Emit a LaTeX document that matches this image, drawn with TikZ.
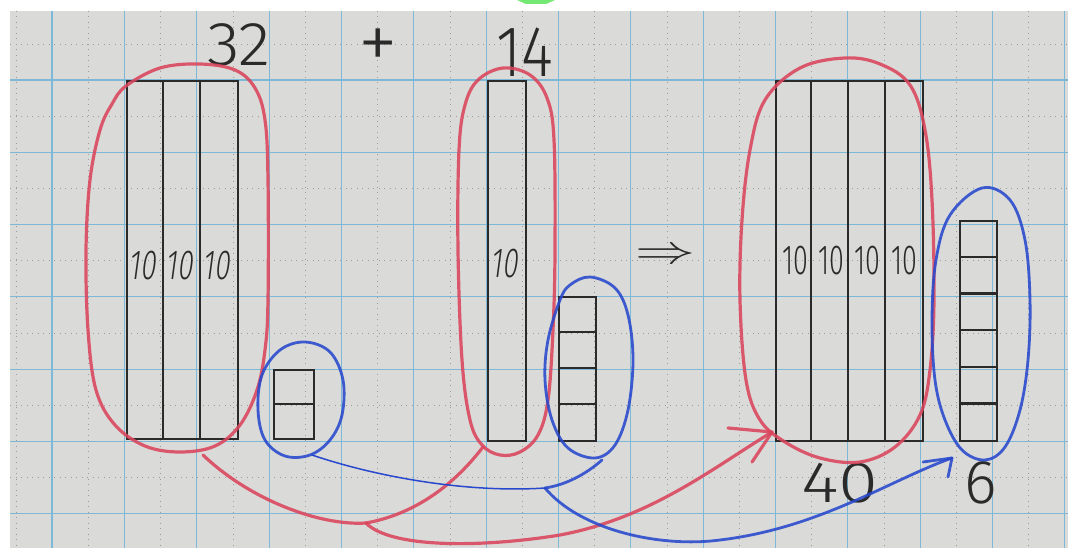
\documentclass[tikz,border=0pt]{standalone}
\usepackage{fontspec}
\usepackage{graphicx}
\setmainfont{Liberation Sans}
\newfontfamily\hand{Fira Sans Light}
\definecolor{paper}{RGB}{218,218,216}
\definecolor{gridblue}{RGB}{125,185,215}
\definecolor{griddot}{RGB}{155,155,155}
\definecolor{pred}{RGB}{218,70,92}
\definecolor{pblue}{RGB}{40,72,205}
\definecolor{ink}{RGB}{42,42,42}
\definecolor{hlgreen}{RGB}{115,232,115}
\tikzset{
  redpencil/.style={draw=pred, line width=3.2pt, line cap=round, line join=round, opacity=0.88},
  bluepencil/.style={draw=pblue, line width=2.8pt, line cap=round, line join=round, opacity=0.88},
  thinblue/.style={draw=pblue, line width=1.5pt, line cap=round},
  blockline/.style={draw=ink, line width=2.4pt},
  numtxt/.style={text=ink, inner sep=0pt, font=\hand\fontsize{58}{60}\selectfont},
  tentxt/.style={text=ink, inner sep=0pt, font=\hand\fontsize{42}{44}\selectfont},
  bluegrid/.style={draw=gridblue, line width=1.1pt},
  dotgrid/.style={draw=griddot, line width=0.9pt, dash pattern=on 1pt off 4.5pt},
}
\begin{document}
\begin{tikzpicture}[x=1pt, y=-1pt]
\useasboundingbox (0,0) rectangle (1068,548);
% paper
\fill[white] (0,0) rectangle (1068,548);
\fill[paper] (10,11) rectangle (1068,548);
\fill[hlgreen] (517,0) -- (555,0) -- (546,4) -- (526,4) -- cycle;
% grid
\foreach \k in {0,...,14} {
  \draw[dotgrid] ({16+72.35*\k},11) -- ({16+72.35*\k},548);
}
\foreach \k in {0,...,6} {
  \draw[dotgrid] (10,{44+72.3*\k}) -- (1068,{44+72.3*\k});
}
\foreach \k in {0,...,14} {
  \draw[bluegrid] ({52+72.35*\k},11) -- ({52+72.35*\k},548);
}
\foreach \k in {0,...,6} {
  \draw[bluegrid] (10,{80+72.3*\k}) -- (1068,{80+72.3*\k});
}

% ---- blocks ----
% 32 : three tens
\node[blockline, anchor=north west, minimum width=111pt, minimum height=358pt, inner sep=0pt] (tensA) at (126,80) {};
\draw[blockline] (163,80) -- (163,438) (200,80) -- (200,438);
\node[tentxt, xscale=0.66, xslant=0.2] (tA1) at (144,266) {10};
\node[tentxt, xscale=0.66, xslant=0.2] (tA2) at (181,266) {10};
\node[tentxt, xscale=0.66, xslant=0.2] (tA3) at (218,266) {10};
% two units
\node[blockline, anchor=north west, minimum width=40pt, minimum height=69pt, inner sep=0pt] (onesA) at (273,369) {};
\draw[blockline] (273,404) -- (313,404);
% 14 : one ten
\node[blockline, anchor=north west, minimum width=38pt, minimum height=360pt, inner sep=0pt] (tensB) at (487,80) {};
\node[tentxt, xscale=0.66, xslant=0.2] (tB1) at (506,264) {10};
% four units
\node[blockline, anchor=north west, minimum width=37pt, minimum height=144pt, inner sep=0pt] (onesB) at (558,296) {};
\draw[blockline] (558,332) -- (595,332) (558,368) -- (595,368) (558,404) -- (595,404);
% 40 : four tens
\node[blockline, anchor=north west, minimum width=147pt, minimum height=360pt, inner sep=0pt] (tensC) at (775,80) {};
\draw[blockline] (811,80) -- (811,440) (848,80) -- (848,440) (885,80) -- (885,440);
\node[tentxt, xscale=0.64] (tC1) at (795,261) {10};
\node[tentxt, xscale=0.64] (tC2) at (831,261) {10};
\node[tentxt, xscale=0.64] (tC3) at (867,261) {10};
\node[tentxt, xscale=0.64] (tC4) at (904,261) {10};
% six units
\node[blockline, anchor=north west, minimum width=37pt, minimum height=220pt, inner sep=0pt] (onesC) at (959,220) {};
\foreach \y in {256.7,293.3,330,366.7,403.3} {
  \draw[blockline] (959,\y) -- (996,\y);
}

% ---- numbers ----
\node[numtxt, font=\hand\fontsize{62}{64}\selectfont, xscale=1.08] (n32) at (239,45) {32};
\node[numtxt, font=\hand\fontsize{80}{82}\selectfont] (plus) at (378,49) {+};
\node[numtxt, font=\hand\fontsize{72}{74}\selectfont, xscale=0.85] (n14) at (525,52) {14};
\node[numtxt, xscale=1.25] (n40) at (840,483) {40};
\node[numtxt, font=\hand\fontsize{62}{64}\selectfont] (n6) at (981,483) {6};
\node[text=ink, inner sep=0pt] (impl) at (665,256) {\scalebox{6}[4]{$\Rightarrow$}};

% ---- loops ----
\draw[redpencil] plot[smooth cycle, tension=0.6] coordinates {
 (126,86) (160,68) (200,64) (235,70) (255,88) (265,120) (268,180) (268,300)
 (265,350) (257,390) (240,425) (215,446) (180,452) (145,446) (115,425)
 (96,390) (88,330) (86,250) (90,180) (100,130) (112,104)};
\draw[bluepencil] plot[smooth cycle, tension=0.6] coordinates {
 (305,342) (330,352) (343,380) (342,415) (330,440) (310,455) (285,456)
 (265,440) (258,410) (262,375) (280,350)};
\draw[redpencil] plot[smooth cycle, tension=0.6] coordinates {
 (503,68) (530,75) (547,98) (554,140) (555,250) (553,330) (548,400)
 (538,435) (520,452) (500,455) (482,445) (470,420) (462,360) (458,250)
 (459,150) (465,105) (478,80)};
\draw[bluepencil] plot[smooth cycle, tension=0.6] coordinates {
 (590,277) (615,288) (628,315) (633,360) (628,410) (615,445) (595,458)
 (568,448) (552,420) (545,380) (548,340) (560,300) (570,285)};
\draw[redpencil] plot[smooth cycle, tension=0.6] coordinates {
 (845,58) (880,64) (910,85) (925,130) (932,200) (934,300) (930,370)
 (920,415) (895,447) (860,462) (820,458) (785,442) (760,420) (746,380)
 (740,300) (742,220) (750,150) (765,100) (800,68)};
\draw[bluepencil] plot[smooth cycle, tension=0.6] coordinates {
 (982,188) (1010,200) (1025,240) (1030,300) (1028,360) (1020,410)
 (1005,447) (985,460) (962,450) (945,420) (935,380) (932,320) (936,260)
 (950,215)};

% ---- connector points ----
\coordinate (redA) at (203,455);
\coordinate (redC) at (483,447);
\coordinate (redM) at (366,523);
\coordinate (redT) at (772,432);
\coordinate (bluB) at (312,455);
\coordinate (bluD) at (602,460);
\coordinate (bluM) at (545,488);
\coordinate (bluT) at (952,458);

% red connectors
\draw[redpencil] (redA) .. controls (250,500) and (320,526) .. (redM);
\draw[redpencil] (redC) .. controls (450,490) and (410,515) .. (redM);
\draw[redpencil] (redM) .. controls (390,548) and (480,548) .. (560,535)
  .. controls (650,518) and (710,470) .. (redT);
\draw[redpencil] (728,428) -- (redT) -- (752,462);
% blue connectors
\draw[thinblue] (bluB) .. controls (380,478) and (470,493) .. (bluM);
\draw[bluepencil] (bluD) .. controls (585,475) and (565,485) .. (bluM);
\draw[bluepencil] (bluM) .. controls (580,530) and (660,548) .. (720,540)
  .. controls (820,528) and (890,480) .. (bluT);
\draw[bluepencil] (923,462) -- (bluT) -- (948,477);
\end{tikzpicture}
\end{document}
